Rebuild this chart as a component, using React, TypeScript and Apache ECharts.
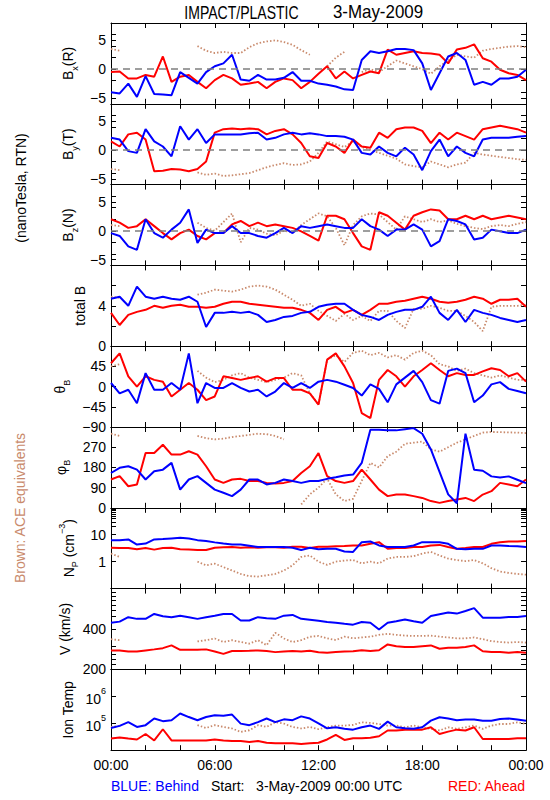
import React, { useEffect, useRef } from "react";
import * as echarts from "echarts";

// ---------------- data (hours of 3-May-2009) ----------------
const HOURS = [0, 0.5, 1, 1.5, 2, 2.5, 3, 3.5, 4, 4.5, 5, 5.5, 6, 6.5, 7, 7.5, 8, 8.5, 9, 9.5, 10, 10.5, 11, 11.5,
  12, 12.5, 13, 13.5, 14, 14.5, 15, 15.5, 16, 16.5, 17, 17.5, 18, 18.5, 19, 19.5, 20, 20.5, 21, 21.5, 22, 22.5, 23, 23.5, 24];

const XTICK_VALUES = [0, 6, 12, 18, 24];
const XTICK_LABELS = ["00:00", "06:00", "12:00", "18:00", "00:00"];

const BX_BLUE = [-4.0, -4.2, -2.5, -4.8, -1.2, -4.3, -4.4, -4.5, -0.5, -1.5, -2.5, -0.5,
  0.5, 1.0, 2.5, -1.8, -2.0, -1.0, -1.8, -1.8, -1.5, -0.5, -2.0, -2.0,
  -2.5, -2.7, -3.0, -3.5, -3.6, 1.6, 3.1, 2.8, 3.1, 3.5, 3.5, 3.3,
  1.0, -3.6, -0.7, 2.2, 2.8, 1.6, -2.7, -2.2, -2.7, -1.6, -1.6, -1.3, -0.1];
const BX_RED = [-0.5, -0.4, -1.6, -1.6, -1.0, -1.3, 2.2, -2.2, -1.3, -1.0, -2.2, -3.3,
  -1.9, -1.0, -1.6, -2.7, -2.5, -2.2, -3.3, -2.2, -1.6, -1.9, -3.3, -2.2,
  -0.8, 0.5, -1.6, -0.4, -1.6, -1.0, -0.4, -0.7, 3.4, 2.5, 2.8, 3.1,
  2.8, 2.7, 2.5, 1.0, 3.4, 3.7, 4.3, 1.9, 1.3, -0.1, -0.7, -1.0, -1.9];
const BX_BROWN = [3.5, 3.2, null, null, null, null, null, null, null, null, 4.0, 3.2,
  2.8, 3.0, 2.8, 2.8, 3.8, 4.5, 4.8, 5.0, 4.7, 4.2, 3.3, 2.5,
  null, 0.5, 2.0, 3.0, null, -0.5, 0.0, -0.5, 0.5, 1.5, 1.0, 0.5,
  0.0, -0.8, 0.5, 1.5, 2.5, 2.2, 2.0, 3.2, 3.5, 3.7, 3.9, 4.0, 3.8];

const BY_BLUE = [2.1, 1.8, -0.2, -0.5, 3.6, 1.5, 0.6, -1.1, 4.1, 1.8, 3.6, 1.2,
  2.7, 2.7, 2.7, 2.7, 2.9, 3.0, 1.8, 2.1, 2.7, 3.0, 2.7, 2.9,
  2.7, 2.4, 2.4, 2.3, 1.8, -0.5, -0.8, 0.6, -0.5, -1.1, 0.4, -0.8,
  -3.5, -0.2, 1.8, -1.1, 0.6, -0.5, -1.1, 1.8, 2.1, 2.1, 2.1, 2.3, 2.4];
const BY_RED = [1.5, 0.6, 2.7, 3.0, 1.8, -3.7, -3.6, -3.3, -3.4, -3.7, -3.3, -2.0,
  3.0, 3.6, 3.7, 3.6, 3.7, 3.6, 2.7, 3.3, 3.6, 2.7, 1.2, -1.1,
  -1.4, 1.2, 0.6, -0.5, 1.8, 0.6, 0.4, 3.0, 2.1, 3.6, 3.9, 3.9,
  3.3, 1.2, 3.0, 1.8, 3.0, 2.4, 1.8, 3.6, 3.9, 4.2, 3.9, 3.6, 3.0];
const BY_BROWN = [-3.3, -3.5, null, null, null, null, null, null, null, null, -3.9, -4.3,
  -4.1, -4.5, -4.4, -4.2, -4.0, -3.5, -3.0, -2.6, -2.3, -2.6, -2.5, -2.0,
  -0.5, 1.5, 1.0, 0.5, 1.5, 0.5, 0.0, -0.5, -1.0, -1.5, -2.5, -2.8,
  -3.0, -2.0, -2.5, -3.0, -2.5, -2.2, -0.5, -0.8, -1.0, -1.2, -1.4, -1.6, -1.7];

const BZ_BLUE = [-0.4, -0.9, -2.7, -3.3, 2.0, -0.4, -1.2, 0.2, 1.4, 3.7, -2.1, 0.2,
  -0.4, -0.4, 0.8, -0.4, -0.4, -0.9, -1.2, -0.4, 0.5, -0.4, 0.8, 0.5,
  0.8, 1.1, 0.8, 0.5, 0.5, 2.0, 0.8, 0.2, -0.9, 0.2, 0.2, 1.1,
  0.2, -2.7, -1.8, 2.0, 1.7, 1.1, -1.5, -1.2, 0.2, -0.1, -0.4, -0.4, 0.2];
const BZ_RED = [2.0, 1.4, 0.5, 0.8, 2.0, 0.8, -0.4, -1.5, -0.4, 0.2, -0.9, -1.5,
  -0.4, -0.4, 1.1, 1.7, 0.8, 1.4, 0.8, 1.1, 0.8, 0.5, -0.1, -0.9,
  -1.7, 2.6, 2.6, 2.0, -0.4, -2.7, -3.3, 3.2, 2.6, 1.4, 0.2, 2.6,
  3.2, 3.7, 3.5, 2.0, 2.0, 2.6, 2.0, 2.6, 2.0, 2.3, 2.6, 2.3, 2.0];
const BZ_BROWN = [1.0, 0.8, null, null, null, null, null, null, null, null, 1.4, 0.5,
  0.0, 1.5, 3.0, -2.0, 0.5, 0.2, -0.5, -0.8, 0.0, -0.3, 1.0, 2.0,
  3.0, 2.5, 0.5, -2.5, 1.0, 2.5, 3.0, 2.8, 1.5, 0.2, 2.5, 2.0,
  1.5, 2.0, 1.5, 1.8, 1.2, 0.8, 0.5, 0.3, 0.8, 1.0, 0.8, 1.2, 1.5];

const TB_BLUE = [4.7, 4.9, 4.0, 5.9, 4.9, 4.7, 4.9, 4.7, 4.6, 4.9, 4.4, 1.9,
  3.3, 3.3, 3.4, 3.3, 3.4, 3.1, 2.4, 2.6, 2.9, 3.0, 3.3, 3.4,
  3.9, 4.1, 4.2, 4.2, 3.6, 3.1, 2.9, 2.6, 3.1, 3.4, 3.6, 3.6,
  3.9, 4.9, 3.3, 2.6, 3.6, 2.4, 3.6, 3.3, 3.1, 2.8, 2.6, 2.4, 2.6];
const TB_RED = [3.3, 2.1, 3.1, 3.4, 3.6, 4.0, 3.8, 4.0, 4.1, 3.9, 3.9, 3.8,
  3.9, 4.2, 4.4, 4.4, 4.2, 4.1, 4.0, 3.9, 3.8, 3.8, 3.6, 3.3,
  2.6, 3.6, 3.9, 3.3, 3.6, 3.1, 3.6, 4.2, 4.2, 4.4, 4.5, 4.7,
  4.9, 4.7, 4.4, 4.3, 4.4, 4.6, 4.9, 4.7, 4.2, 4.6, 4.6, 4.7, 3.9];
const TB_BROWN = [4.9, 4.8, null, null, null, null, null, null, null, null, 5.1, 5.3,
  5.6, 5.5, 5.4, 5.6, 5.9, 6.0, 5.9, 5.6, 5.1, 4.6, 4.0, 4.2,
  3.5, 3.0, 2.5, 3.2, 2.6, 3.0, 2.5, 3.5, 3.5, 2.5, 1.8, 3.7,
  3.7, 4.0, 3.8, 3.5, 3.5, 3.0, 2.4, 1.5, 3.9, 4.0, 4.0, 4.0, 4.1];

const TH_BLUE = [8, -15, -7, -37, 30, -7, -7, 8, -7, 74, -37, 8,
  -3, -3, 8, -3, -11, -7, -22, -11, 8, -3, 8, -3,
  11, 15, 11, 4, -3, -20, 5, -5, -35, 5, 20, 35,
  10, -30, -38, 35, 40, 30, -35, -20, 5, 10, -5, -10, -15];
const TH_RED = [52, 74, 23, 0, 23, 15, 11, -22, -7, 8, -7, -30,
  -22, 23, 19, 15, 19, 23, 11, 19, 19, -7, -7, -15,
  -40, 60, 74, 45, 8, -59, -70, 15, 37, 23, 0, 23,
  37, 52, 37, 23, 30, 26, 26, 34, 41, 37, 23, 30, 11];
const TH_BROWN = [45, 50, null, null, null, null, null, null, null, null, 35, 20,
  10, 15, 25, 30, 20, 15, 10, 15, 20, 30, 25, -15,
  -40, 60, 70, 55, 75, 80, 70, 75, 65, 70, 60, 75,
  80, 70, 50, 45, 35, 40, 30, 25, 20, 25, 20, 15, 15];

const PH_BLUE = [155, 178, 185, 170, 126, 163, 170, 200, 81, 126, 141, 111,
  81, 67, 52, 81, 126, 126, 104, 111, 126, 119, 111, 119,
  119, 129, 136, 144, 148, 200, 348, 348, 345, 345, 350, 355,
  330, 260, 160, 60, 20, 330, 170, 165, 140, 135, 140, 125, 110];
const PH_RED = [126, 141, 96, 104, 244, 244, 281, 237, 237, 252, 237, 185,
  126, 111, 126, 129, 119, 119, 111, 108, 111, 119, 155, 185,
  244, 141, 119, 111, 119, 170, 126, 81, 52, 59, 59, 52,
  44, 30, 22, 30, 37, 44, 30, 59, 74, 111, 104, 96, 126];
const PH_BROWN = [330, 320, null, null, null, null, null, null, null, null, 320, 310,
  305, 308, 315, 320, 325, 330, 328, 320, 305, null, 15, 60,
  90, 130, 60, 30, 40, 120, 200, 180, 230, 250, 285, 290,
  295, 260, 250, 270, 290, 305, 320, 335, 338, 337, 336, 335, 333];

const NP_BLUE = [6.3, 6.3, 6.7, 4.3, 4.7, 6.7, 6.9, 7.3, 7.7, 7.3, 6.3, 5.8,
  5.2, 4.7, 4.3, 4.3, 3.9, 3.5, 3.5, 3.5, 3.5, 3.3, 2.7, 3.3,
  2.9, 3.0, 3.0, 2.4, 2.3, 5.3, 5.6, 4.0, 3.5, 3.5, 3.5, 4.0,
  5.3, 5.3, 5.3, 4.6, 3.0, 2.9, 3.0, 3.0, 4.0, 4.0, 3.8, 3.7, 3.5];
const NP_RED = [3.3, 3.2, 3.2, 2.9, 3.2, 2.8, 3.2, 3.3, 2.9, 2.8, 2.7, 2.7,
  3.3, 3.4, 3.5, 3.3, 3.4, 3.3, 3.4, 3.4, 3.3, 3.6, 3.6, 3.2,
  3.6, 3.6, 3.7, 3.8, 4.0, 4.0, 4.6, 5.3, 3.0, 3.2, 3.2, 3.5,
  3.5, 4.0, 4.2, 3.5, 3.0, 3.2, 3.5, 3.5, 4.6, 5.3, 5.6, 5.6, 5.9];
const NP_BROWN = [2.0, 1.5, null, null, null, null, null, null, null, null, 1.0, 0.73,
  0.84, 0.63, 0.47, 0.35, 0.29, 0.28, 0.31, 0.35, 0.47, 0.73, 1.5, 1.7,
  1.0, 0.76, 1.0, 1.1, 1.15, 0.87, 1.0, 0.87, 1.3, 1.5, 1.5, 1.6,
  2.0, 2.3, 1.7, 1.3, 1.15, 1.05, 1.15, 0.87, 0.57, 0.43, 0.38, 0.35, 0.33];

const V_BLUE = [445, 454, 490, 476, 476, 518, 498, 490, 503, 490, 476, 490,
  503, 518, 518, 463, 463, 490, 481, 476, 503, 509, 476, 468,
  460, 451, 445, 437, 431, 451, 445, 396, 445, 457, 471, 457,
  445, 500, 515, 530, 521, 545, 572, 486, 486, 486, 492, 492, 500];
const V_RED = [277, 277, 272, 272, 277, 282, 288, 302, 280, 280, 280, 282,
  272, 261, 274, 274, 275, 277, 274, 269, 272, 274, 272, 275,
  268, 266, 270, 272, 273, 278, 274, 278, 307, 298, 294, 294,
  298, 302, 285, 290, 290, 294, 302, 273, 270, 270, 266, 270, 266];
const V_BROWN = [336, 330, null, null, null, null, null, null, null, null, 323, 330,
  340, 320, 330, 320, 311, 330, 303, 375, 340, 320, 330, 350,
  355, 341, 331, 351, 341, 346, 351, 362, 368, 362, 357, 355,
  355, 357, 351, 346, 341, 341, 346, 336, 325, 320, 317, 320, 317];

const T_BLUE = [6.7e4, 8.0e4, 1.1e5, 7.3e4, 8.5e4, 1.5e5, 1.2e5, 1.3e5, 2.3e5, 1.7e5, 1.3e5, 1.7e5,
  2.0e5, 1.9e5, 2.1e5, 9.7e4, 8.5e4, 1.1e5, 1.5e5, 1.1e5, 1.4e5, 1.3e5, 1.8e5, 1.5e5,
  1.0e5, 6.5e4, 7.1e4, 6.2e4, 5.8e4, 7.1e4, 8.2e4, 6.2e4, 1.15e5, 7.1e4, 6.5e4, 6.2e4,
  7.1e4, 1.25e5, 1.67e5, 1.5e5, 1.3e5, 1.37e5, 1.37e5, 1.25e5, 1.25e5, 1.45e5, 1.5e5, 1.37e5, 1.25e5];
const T_RED = [2.7e4, 2.95e4, 2.7e4, 2.5e4, 4.0e4, 2.3e4, 6.0e4, 2.3e4, 2.3e4, 2.3e4, 2.3e4, 2.3e4,
  2.5e4, 2.3e4, 2.2e4, 2.2e4, 2.0e4, 2.2e4, 1.9e4, 1.8e4, 1.8e4, 1.8e4, 1.7e4, 1.8e4,
  1.9e4, 2.5e4, 3.7e4, 2.4e4, 2.8e4, 2.8e4, 2.9e4, 3.3e4, 5.4e4, 5.4e4, 5.8e4, 5.8e4,
  5.8e4, 7.1e4, 4.0e4, 4.9e4, 5.8e4, 5.4e4, 7.1e4, 2.6e4, 2.6e4, 2.6e4, 2.6e4, 2.8e4, 2.8e4];
const T_BROWN = [7.3e4, 8.0e4, null, null, null, null, null, null, null, null, 8.5e4, 6.7e4,
  8.5e4, 7.3e4, 6.4e4, 4.8e4, 5.5e4, 8.5e4, 7.3e4, 1.1e5, 9.7e4, 7.3e4, 6.4e4, 7.3e4,
  6.0e4, 7.1e4, 8.2e4, 8.2e4, 8.7e4, 1.09e5, 1.03e5, 9.4e4, 8.2e4, 8.2e4, 7.1e4, 8.2e4,
  7.1e4, 6.2e4, 5.4e4, 7.1e4, 6.2e4, 7.1e4, 8.2e4, 6.2e4, 8.2e4, 9.4e4, 9.4e4, 1.09e5, 9.4e4];

// y-axis tick positions / labels per panel
const B_TICKS = [-5, -4, -2, 0, 2, 4, 5, 6];
const B_LABELS = [-5, 0, 5];
const TB_TICKS = [2, 4, 6];
const TB_LABELS = [0, 4];
const TH_TICKS = [-45, 0, 45];
const TH_LABELS = [-90, -45, 0, 45];
const PH_TICKS = [90, 180, 270];
const PH_LABELS = [0, 90, 180, 270];
const NP_TICKS = [1, 10, 20, 30, 40, 50, 60, 70, 80, 90];
const NP_LABELS = [1, 10];
const V_TICKS = [220, 240, 260, 280, 300, 400, 500, 550, 600, 650, 700, 750];
const V_LABELS = [200, 400];
const T_TICKS = [1e5, 1e6];
const T_LABELS = [1e5, 1e6];

// ---------------- style ----------------
const FONT = "Liberation Sans";
const BLUE = "#0000ff";
const RED = "#ff0000";
const BROWN = "#c98a6c";
const LEFT = 111;
const PW = 415;
const TOP = 23;
const PH = 80.8;

const minus = (v: number) => (v < 0 ? "\u2212" + String(-v) : String(v));

const RICH = {
  m: { fontSize: 14, fontFamily: FONT, color: "#000", lineHeight: 22, verticalAlign: "middle" },
  s: { fontSize: 9, fontFamily: FONT, color: "#000", lineHeight: 22, verticalAlign: "bottom" },
  p: { fontSize: 9, fontFamily: FONT, color: "#000", lineHeight: 22, verticalAlign: "top" },
};

type Panel = {
  name: string;
  gap: number;
  type: "value" | "log";
  min: number;
  max: number;
  ticks: number[];
  labels: number[];
  fmt: (v: number) => string;
  blue: (number | null)[];
  red: (number | null)[];
  brown: (number | null)[];
  zero?: boolean;
};

const PANELS: Panel[] = [
  { name: "{m|B}{s|x}{m|(R)}", gap: 23, type: "value", min: -6, max: 8, ticks: B_TICKS, labels: B_LABELS, fmt: minus, blue: BX_BLUE, red: BX_RED, brown: BX_BROWN, zero: true },
  { name: "{m|B}{s|y}{m|(T)}", gap: 23, type: "value", min: -6, max: 8, ticks: B_TICKS, labels: B_LABELS, fmt: minus, blue: BY_BLUE, red: BY_RED, brown: BY_BROWN, zero: true },
  { name: "{m|B}{s|z}{m|(N)}", gap: 23, type: "value", min: -6, max: 8, ticks: B_TICKS, labels: B_LABELS, fmt: minus, blue: BZ_BLUE, red: BZ_RED, brown: BZ_BROWN, zero: true },
  { name: "{m|total B}", gap: 14, type: "value", min: 0, max: 8, ticks: TB_TICKS, labels: TB_LABELS, fmt: minus, blue: TB_BLUE, red: TB_RED, brown: TB_BROWN },
  { name: "{m|θ}{s|B}", gap: 31, type: "value", min: -90, max: 90, ticks: TH_TICKS, labels: TH_LABELS, fmt: minus, blue: TH_BLUE, red: TH_RED, brown: TH_BROWN },
  { name: "{m|φ}{s|B}", gap: 30, type: "value", min: 0, max: 360, ticks: PH_TICKS, labels: PH_LABELS, fmt: minus, blue: PH_BLUE, red: PH_RED, brown: PH_BROWN },
  { name: "{m|N}{s|P}{m| (cm}{p|\u22123}{m|)}", gap: 23, type: "log", min: 0.1, max: 100, ticks: NP_TICKS, labels: NP_LABELS, fmt: (v) => String(v), blue: NP_BLUE, red: NP_RED, brown: NP_BROWN },
  { name: "{m|V (km/s)}", gap: 30, type: "log", min: 200, max: 800, ticks: V_TICKS, labels: V_LABELS, fmt: (v) => String(v), blue: V_BLUE, red: V_RED, brown: V_BROWN },
  { name: "{m|Ion Temp}", gap: 29, type: "log", min: 1e4, max: 1e7, ticks: T_TICKS, labels: T_LABELS, fmt: (v) => "{b|10}{p|" + String(Math.round(Math.log10(v))) + "}", blue: T_BLUE, red: T_RED, brown: T_BROWN },
];

const pairs = (vals: (number | null)[]) => vals.map((v, i) => [HOURS[i], v]);

function buildOption() {
  const grid: any[] = [];
  const xAxis: any[] = [];
  const yAxis: any[] = [];
  const series: any[] = [];
  const line = { show: true, onZero: false, lineStyle: { color: "#000", width: 1 } };

  PANELS.forEach((p, i) => {
    const last = i === PANELS.length - 1;
    grid.push({ left: LEFT, top: TOP + i * PH, width: PW, height: PH, outerBoundsMode: "none" });
    const xBase = {
      gridIndex: i, type: "value", min: 0, max: 24, interval: 2,
      axisLine: line, splitLine: { show: false },
      axisTick: { show: true, inside: true, length: 5, lineStyle: { color: "#000", width: 1 } },
    };
    xAxis.push({
      ...xBase, position: "bottom",
      axisLabel: last
        ? { show: true, customValues: XTICK_VALUES, formatter: (v: number) => XTICK_LABELS[XTICK_VALUES.indexOf(v)], color: "#000", fontSize: 14, fontFamily: FONT, margin: 8 }
        : { show: false },
    });
    xAxis.push({ ...xBase, position: "top", axisLabel: { show: false } });

    const yBase = {
      gridIndex: i, type: p.type, min: p.min, max: p.max,
      axisLine: line, splitLine: { show: false }, minorTick: { show: false },
      axisTick: { show: true, inside: true, length: 5, customValues: p.ticks, lineStyle: { color: "#000", width: 1 } },
    };
    yAxis.push({
      ...yBase, position: "left",
      name: p.name, nameLocation: "middle", nameGap: p.gap, nameRotate: 90,
      nameTextStyle: { rich: RICH },
      axisLabel: {
        show: true, customValues: p.labels, formatter: p.fmt, color: "#000", fontSize: 14, fontFamily: FONT, margin: 5,
        rich: { b: { fontSize: 14, fontFamily: FONT, color: "#000", lineHeight: 20, verticalAlign: "bottom" }, p: { fontSize: 9, fontFamily: FONT, color: "#000", lineHeight: 20, verticalAlign: "top" } },
      },
    });
    yAxis.push({ ...yBase, position: "right", axisLabel: { show: false } });

    const common = { type: "line", xAxisIndex: 2 * i, yAxisIndex: 2 * i, showSymbol: false, symbol: "none", connectNulls: false, silent: true };
    series.push({
      ...common, name: "ACE", data: pairs(p.brown),
      lineStyle: { color: BROWN, width: 1.8, type: [1.5, 2] },
      markLine: p.zero
        ? { silent: true, symbol: ["none", "none"], label: { show: false }, lineStyle: { color: "#7f7f7f", width: 1.5, type: [7, 5] }, data: [{ yAxis: 0 }] }
        : undefined,
    });
    series.push({ ...common, name: "Ahead", data: pairs(p.red), lineStyle: { color: RED, width: 2 } });
    series.push({ ...common, name: "Behind", data: pairs(p.blue), lineStyle: { color: BLUE, width: 2 } });
  });

  const graphic = [
    { type: "text", x: 241.5, y: 12, scaleX: 0.78, style: { text: "IMPACT/PLASTIC", fontSize: 18, fontFamily: FONT, fill: "#000", align: "center", verticalAlign: "middle" } },
    { type: "text", x: 378, y: 12, scaleX: 0.94, style: { text: "3-May-2009", fontSize: 18, fontFamily: FONT, fill: "#000", align: "center", verticalAlign: "middle" } },
    { type: "text", x: 21, y: 188, rotation: Math.PI / 2, style: { text: "(nanoTesla, RTN)", fontSize: 14, fontFamily: FONT, fill: "#000", align: "center", verticalAlign: "middle" } },
    { type: "text", x: 20, y: 508, rotation: Math.PI / 2, style: { text: "Brown: ACE equivalents", fontSize: 14, fontFamily: FONT, fill: BROWN, align: "center", verticalAlign: "middle" } },
    { type: "text", x: 111, y: 786, style: { text: "BLUE: Behind", fontSize: 14, fontFamily: FONT, fill: BLUE, align: "left", verticalAlign: "middle" } },
    { type: "text", x: 211, y: 786, style: { text: "Start:\u00a0\u00a0\u00a03-May-2009 00:00 UTC", fontSize: 14, fontFamily: FONT, fill: "#000", align: "left", verticalAlign: "middle" } },
    { type: "text", x: 525, y: 786, style: { text: "RED: Ahead", fontSize: 14, fontFamily: FONT, fill: RED, align: "right", verticalAlign: "middle" } },
  ];

  return { animation: false, backgroundColor: "#ffffff", grid, xAxis, yAxis, series, graphic };
}

export default function App() {
  const ref = useRef<HTMLDivElement>(null);
  useEffect(() => {
    document.body.style.margin = "0";
    const chart = echarts.init(ref.current as HTMLDivElement, undefined, { renderer: "svg", width: 550, height: 800 });
    chart.setOption(buildOption() as any);
    return () => chart.dispose();
  }, []);
  return <div ref={ref} style={{ width: 550, height: 800, background: "#fff" }} />;
}
